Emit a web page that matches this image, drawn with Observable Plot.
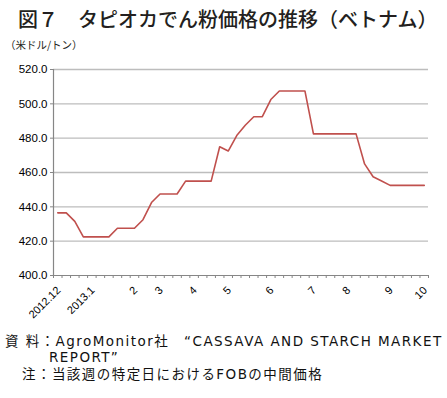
<!DOCTYPE html>
<html>
<head>
<meta charset="utf-8">
<script src="https://cdn.jsdelivr.net/npm/d3@7"></script>
<script src="https://cdn.jsdelivr.net/npm/@observablehq/plot@0.6"></script>
<style>
  html, body { margin: 0; padding: 0; background: #fff; }
  #wrap { position: relative; width: 447px; height: 398px; overflow: hidden; background: #fff; color: #231f20; }
  .t { position: absolute; white-space: nowrap; font-family: "Noto Sans CJK JP", sans-serif; }
  #title { left: 18px; top: 9px; font-size: 20px; line-height: 20px; font-weight: 500; }
  #unit { left: 5px; top: 40px; font-size: 10.5px; line-height: 10.5px; letter-spacing: 0px; }
  #chart { position: absolute; left: 0; top: 60px; }
  .foot { font-family: "DejaVu Sans", "Noto Sans CJK JP", sans-serif; font-size: 13.5px; line-height: 14px; letter-spacing: 1.45px; color: #111; }
</style>
</head>
<body>
<div id="wrap">
  <div id="title" class="t">図７　タピオカでん粉価格の推移（ベトナム）</div>
  <div id="unit" class="t">（米ドル/トン）</div>
  <div id="chart"></div>
  <div class="t foot" style="left:5px;top:334px;">資 料：AgroMonitor社　“CASSAVA AND STARCH MARKET</div>
  <div class="t foot" style="left:49px;top:350px;">REPORT”</div>
  <div class="t foot" style="left:22px;top:367px;">注：当該週の特定日におけるFOBの中間価格</div>
</div>
<script>
// weekly category labels (blank = unlabeled week)
const labels = ["2012.12","","","","2013.1","","","","","2","","","3","","","","4","","","","5","","","","","6","","","","","7","","","","8","","","","","9","","","","10"];
// price (USD / ton)
const prices = [436.5, 436.5, 431.5, 422.5, 422.5, 422.5, 422.5, 427.5, 427.5, 427.5,
                432.5, 442.5, 447.5, 447.5, 447.5, 455, 455, 455, 455, 475,
                472.5, 481.5, 487.5, 492.5, 492.5, 502.5, 507.5, 507.5, 507.5, 507.5,
                482.5, 482.5, 482.5, 482.5, 482.5, 482.5, 465, 457.5, 455, 452.5,
                452.5, 452.5, 452.5, 452.5];
const yTicks = [400, 420, 440, 460, 480, 500, 520];

const data = prices.map((v, i) => ({i, v, label: labels[i]}));
const n = labels.length;
const boundaries = d3.range(n + 1).map(k => k - 0.5);
const labelData = data.filter(d => d.label !== "");

const chart = Plot.plot({
  width: 447,
  height: 260,
  marginLeft: 53,
  marginRight: 19,
  marginTop: 9,
  marginBottom: 45,
  x: {type: "linear", domain: [-0.5, n - 0.5]},
  y: {domain: [400, 520]},
  style: {fontFamily: "'Liberation Sans', Arial, sans-serif", fontSize: "11px", color: "#000", background: "transparent"},
  marks: [
    Plot.ruleY(yTicks.filter(t => t > 400), {stroke: "#bdbdbd", strokeWidth: 1.3}),
    Plot.ruleX([-0.5], {stroke: "#868686", strokeWidth: 1.2}),
    Plot.ruleY([400], {stroke: "#868686", strokeWidth: 1.2}),
    Plot.axisY({ticks: yTicks, tickFormat: d => d.toFixed(1), tickSize: 3, tickPadding: 3, stroke: "#868686", label: null, fontSize: 11.5}),
    Plot.axisX({ticks: boundaries, tickSize: 3, tickFormat: () => "", stroke: "#868686", label: null}),
    Plot.text(labelData, {x: "i", text: "label", frameAnchor: "bottom", dx: 1, dy: 13, rotate: -45, textAnchor: "end", lineAnchor: "middle", fontSize: 11, fill: "#000"}),
    Plot.lineY(data, {x: "i", y: "v", stroke: "#c0504d", strokeWidth: 1.6})
  ]
});
document.getElementById("chart").appendChild(chart);
</script>
</body>
</html>
